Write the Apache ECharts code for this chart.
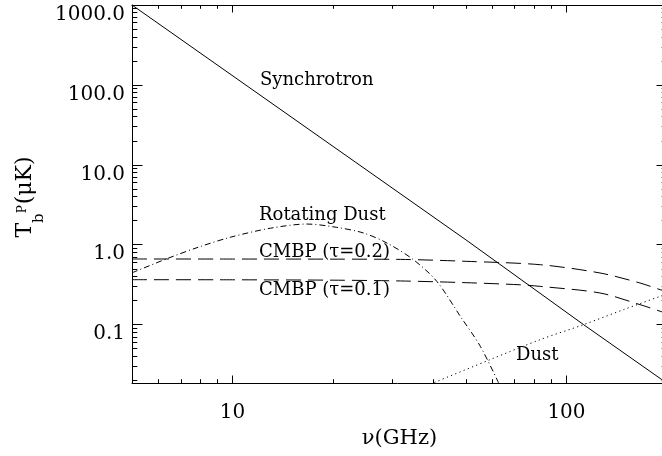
<!DOCTYPE html>
<html><head><meta charset="utf-8">
<script src="https://cdn.jsdelivr.net/npm/echarts@6/dist/echarts.min.js"></script>
<style>html,body{margin:0;padding:0;background:#fff}#c{width:662px;height:456px}</style>
</head><body><div id="c"></div>
<script>
// ---- data (frequency in GHz, brightness in microK) ----
const synchNu = [5, 50, 112.5, 193, 200];
const synchT  = [1000, 1.15, 0.1, 0.0205, 0.0185];

const rotNu = [5, 6.44, 7.9, 9.85, 13, 16.7, 20.5, 24.7, 29.0, 34.8, 40.9, 48.1, 55.2, 62.6];
const rotT  = [0.445, 0.682, 0.931, 1.24, 1.61, 1.815, 1.65, 1.40, 1.05, 0.65, 0.348, 0.127, 0.0536, 0.0187];

const cmb2Nu = [5, 10, 20, 31.8, 50, 83.5, 126, 166, 190.8, 200];
const cmb2T  = [0.663, 0.662, 0.66, 0.655, 0.62, 0.562, 0.443, 0.332, 0.274, 0.26];

const cmb1Nu = [5, 10, 20, 31.8, 50, 72.7, 83.5, 126, 166, 190.8, 200];
const cmb1T  = [0.365, 0.364, 0.36, 0.352, 0.335, 0.315, 0.301, 0.249, 0.178, 0.147, 0.137];

const dustNu = [38, 40, 59.1, 83.5, 112.5, 148.2, 190.8, 200];
const dustT  = [0.0171, 0.0187, 0.0365, 0.065, 0.1, 0.154, 0.226, 0.242];

// ---- axes ----
const xRange = [5, 200];
const yRange = [0.0186, 1000];
const xMajor = [10, 100];
const xTickLabels = ['10', '100'];
const xMinor = [6, 7, 8, 9, 20, 30, 40, 50, 60, 70, 80, 90, 200];
const yMajor = [0.1, 1, 10, 100, 1000];
const yTickLabels = ['0.1', '1.0', '10.0', '100.0', '1000.0'];
const yMinor = [0.02, 0.03, 0.04, 0.05, 0.06, 0.07, 0.08, 0.09,
                0.2, 0.3, 0.4, 0.5, 0.6, 0.7, 0.8, 0.9,
                2, 3, 4, 5, 6, 7, 8, 9,
                20, 30, 40, 50, 60, 70, 80, 90,
                200, 300, 400, 500, 600, 700, 800, 900];

const L = v => Math.log10(v);
const FONT = 'DejaVu Serif';
const pts = (nu, t) => nu.map((v, i) => [L(v), L(t[i])]);
const lookup = (vals, labels) => v => {
  const i = vals.findIndex(t => Math.abs(L(t) - v) < 1e-6);
  return i >= 0 ? labels[i] : '';
};

function axis(pos, range, ticks, len, lineShow, extra) {
  return Object.assign({
    type: 'value', gridIndex: 0, position: pos,
    min: L(range[0]), max: L(range[1]),
    axisLine: {show: lineShow, onZero: false, lineStyle: {color: '#000', width: 1}},
    axisTick: {show: true, inside: true, length: len, customValues: ticks.map(L),
               lineStyle: {color: '#000', width: 1}},
    axisLabel: {show: false},
    splitLine: {show: false}
  }, extra || {});
}

const xAxes = [
  axis('bottom', xRange, xMajor, 7.5, true, {
    axisLabel: {show: true, customValues: xMajor.map(L), formatter: lookup(xMajor, xTickLabels),
                margin: 20, fontSize: 20, lineHeight: 20, fontFamily: FONT, color: '#000'},
    name: 'ν(GHz)', nameLocation: 'middle', nameGap: 44, nameMoveOverlap: false,
    nameTextStyle: {fontSize: 21, lineHeight: 24, fontFamily: FONT, color: '#000'}
  }),
  axis('bottom', xRange, xMinor, 3.8, false),
  axis('top', xRange, xMajor, 7.5, true),
  axis('top', xRange, xMinor, 3.8, false)
];

const yAxes = [
  axis('left', yRange, yMajor, 10.5, true, {
    axisLabel: {show: true, customValues: yMajor.map(L), formatter: lookup(yMajor, yTickLabels),
                margin: 7, fontSize: 20, lineHeight: 19, verticalAlign: 'top',
                fontFamily: FONT, color: '#000'},
    name: '{t|T}{b|b}{p|P}{u|(μK)}', nameLocation: 'middle', nameGap: 85, nameMoveOverlap: false,
    nameTextStyle: {
      fontFamily: FONT, color: '#000', padding: [0, 6, 0, 0],
      rich: {
        t: {fontSize: 22, lineHeight: 44, verticalAlign: 'middle', fontFamily: FONT, color: '#000'},
        b: {fontSize: 15, lineHeight: 14, verticalAlign: 'bottom', fontFamily: FONT, color: '#000'},
        p: {fontSize: 12, lineHeight: 12, verticalAlign: 'top', padding: [14, 1, 0, 0], fontFamily: FONT, color: '#000'},
        u: {fontSize: 22, lineHeight: 44, verticalAlign: 'middle', fontFamily: FONT, color: '#000'}
      }
    }
  }),
  axis('left', yRange, yMinor, 5.3, false),
  axis('right', yRange, yMajor, 10.5, true),
  axis('right', yRange, yMinor, 5.3, false)
];

function line(name, nu, t, type, smooth) {
  return {
    name, type: 'line', xAxisIndex: 0, yAxisIndex: 0,
    data: pts(nu, t), showSymbol: false, symbol: 'none', smooth: smooth,
    clip: true, silent: true,
    lineStyle: {color: '#000', width: 1, type: type}
  };
}

function note(text, x, y) {
  return {type: 'text', x: x, y: y, silent: true,
          style: {text: text, fontSize: 18, fontFamily: FONT, fill: '#000', verticalAlign: 'middle'}};
}

const chart = echarts.init(document.getElementById('c'), null, {renderer: 'canvas'});
chart.setOption({
  animation: false,
  backgroundColor: '#fff',
  grid: {left: 132, top: 5, width: 535, height: 378, containLabel: false, outerBoundsMode: 'none'},
  xAxis: xAxes,
  yAxis: yAxes,
  series: [
    line('Synchrotron', synchNu, synchT, 'solid', false),
    line('Rotating Dust', rotNu, rotT, [6, 3, 1, 3], 0.3),
    line('CMBP 0.2', cmb2Nu, cmb2T, [15, 7], 0.3),
    line('CMBP 0.1', cmb1Nu, cmb1T, [15, 7], 0.3),
    line('Dust', dustNu, dustT, [1.2, 3.3], 0.3)
  ],
  graphic: [
    note('Synchrotron', 260, 80),
    note('Rotating Dust', 259, 215.5),
    note('CMBP (τ=0.2)', 259, 252),
    note('CMBP (τ=0.1)', 259, 290.5),
    note('Dust', 516, 355.5)
  ]
});
</script>
</body></html>
